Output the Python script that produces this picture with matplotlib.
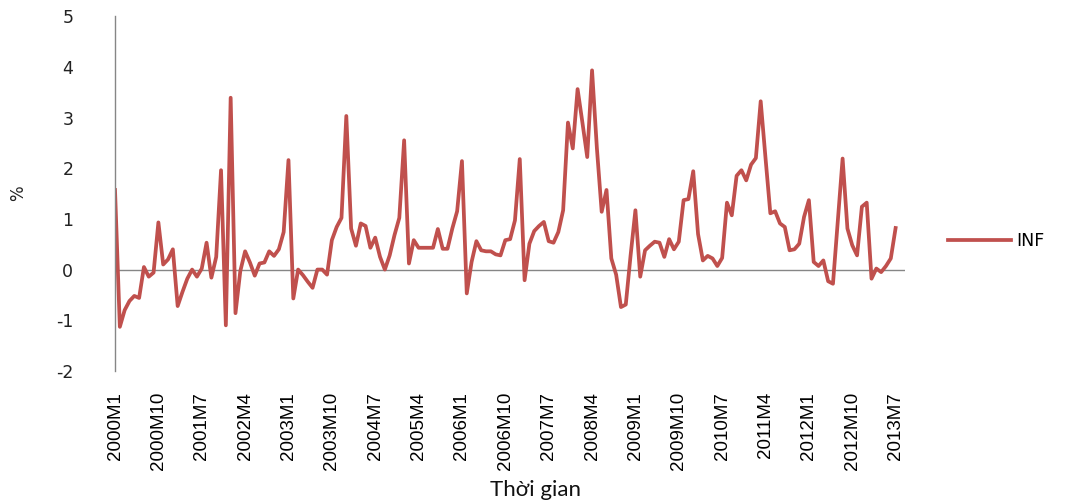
import matplotlib
matplotlib.use('Agg')
import matplotlib.pyplot as plt

# ── Data: monthly INF (%), 2000M1 .. 2013M7 ─────────────────────────────────
years = list(range(2000, 2014))
months = [f'{y}M{m}' for y in years for m in range(1, 13)][:163]

inf = [
    1.57, -1.13, -0.80, -0.62, -0.52, -0.56, 0.05, -0.14, -0.06, 0.93,
    0.10, 0.20, 0.40, -0.72, -0.44, -0.18, 0.00, -0.14, 0.02, 0.53,
    -0.16, 0.25, 1.96, -1.10, 3.39, -0.86, -0.03, 0.36, 0.14, -0.12,
    0.12, 0.14, 0.36, 0.27, 0.40, 0.74, 2.16, -0.57, 0.00, -0.11,
    -0.24, -0.36, 0.00, 0.00, -0.10, 0.58, 0.84, 1.02, 3.03, 0.81,
    0.47, 0.91, 0.86, 0.43, 0.63, 0.25, 0.00, 0.28, 0.68, 1.02,
    2.55, 0.12, 0.58, 0.43, 0.43, 0.43, 0.43, 0.80, 0.41, 0.41,
    0.81, 1.15, 2.14, -0.47, 0.15, 0.56, 0.38, 0.36, 0.36, 0.30,
    0.28, 0.58, 0.60, 0.97, 2.18, -0.21, 0.51, 0.76, 0.86, 0.94,
    0.56, 0.53, 0.74, 1.17, 2.90, 2.39, 3.56, 2.90, 2.22, 3.93,
    2.40, 1.14, 1.57, 0.22, -0.10, -0.74, -0.69, 0.28, 1.17, -0.14,
    0.38, 0.47, 0.55, 0.53, 0.25, 0.60, 0.40, 0.55, 1.37, 1.39,
    1.94, 0.70, 0.18, 0.27, 0.22, 0.07, 0.23, 1.32, 1.07, 1.85,
    1.96, 1.76, 2.07, 2.20, 3.32, 2.20, 1.11, 1.15, 0.91, 0.84,
    0.38, 0.40, 0.51, 1.04, 1.37, 0.15, 0.07, 0.18, -0.23, -0.28,
    0.95, 2.19, 0.81, 0.48, 0.28, 1.24, 1.32, -0.18, 0.02, -0.05,
    0.07, 0.22, 0.82,
]

tick_step = 9
tick_pos = list(range(0, len(months), tick_step))
tick_labels = [months[i] for i in tick_pos]
y_ticks = [-2, -1, 0, 1, 2, 3, 4, 5]

# ── Plot ─────────────────────────────────────────────────────────────────────
fig = plt.figure(figsize=(10.65, 5.04), dpi=100)
ax = fig.add_axes([0.108, 0.264, 0.742, 0.704])

ax.plot(range(len(inf)), inf, color='#C0504D', lw=2.7, label='INF',
        solid_joinstyle='round')
ax.axhline(0, color='#868686', lw=1.0, zorder=0)

ax.set_xlim(0, 164)
ax.set_ylim(-2, 5)
ax.set_yticks(y_ticks)
ax.set_yticklabels([str(v) for v in y_ticks], fontsize=12.5, color='#222222')
ax.set_xticks(tick_pos)
ax.set_xticklabels(tick_labels, rotation=90, fontsize=13.5, color='#000000',
                   family='Liberation Sans', ha='center', va='top')
ax.tick_params(axis='y', length=0, pad=30)
ax.tick_params(axis='x', length=0, pad=15)

for side in ('top', 'right', 'bottom'):
    ax.spines[side].set_visible(False)
ax.spines['left'].set_color('#868686')
ax.spines['left'].set_linewidth(1.0)

fig.text(18 / 1065, 1 - 193 / 504, '%', rotation=90, ha='center', va='center',
         fontsize=12, color='#222222')
fig.text(536 / 1065, 1 - 490 / 504, 'Thời gian', ha='center', va='center',
         fontsize=16, family=['Lato', 'DejaVu Sans'], color='#111111')

ax.legend(loc='center left', bbox_to_anchor=(948 / 1065, 1 - 241 / 504),
          bbox_transform=fig.transFigure, frameon=False, handlelength=3.6,
          handletextpad=0.35, borderpad=0, borderaxespad=0,
          prop={'size': 12.5})

fig.savefig('out.png', dpi=100)
